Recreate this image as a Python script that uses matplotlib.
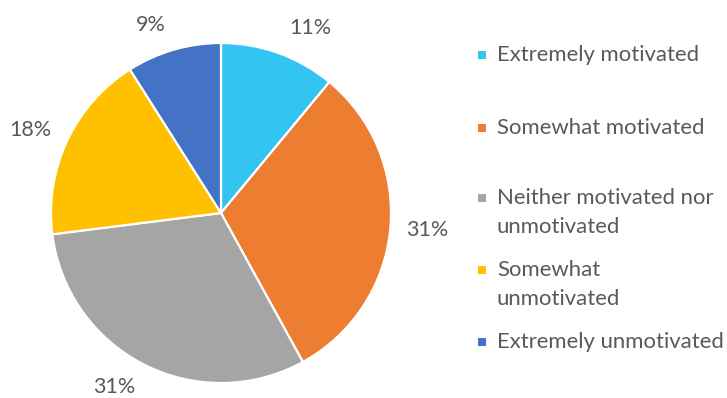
import matplotlib
matplotlib.use("Agg")
import matplotlib.pyplot as plt
import numpy as np
from matplotlib.patches import Rectangle

categories = [
    "Extremely motivated",
    "Somewhat motivated",
    "Neither motivated nor\nunmotivated",
    "Somewhat\nunmotivated",
    "Extremely unmotivated",
]
shares = [11, 31, 31, 18, 9]
colors = ["#33C4F2", "#ED7D31", "#A5A5A5", "#FFC000", "#4472C4"]

text_color = "#595959"
plt.rcParams["font.family"] = ["Lato", "DejaVu Sans"]

W, H = 727, 398
fig = plt.figure(figsize=(W / 100, H / 100), dpi=100)

# square axes in pixels: pie centre (221, 213), radius 170
cx, cy, r = 221, 213, 170
ax = fig.add_axes([(cx - r) / W, (H - cy - r) / H, 2 * r / W, 2 * r / H])

wedges, _, pcts = ax.pie(
    shares,
    colors=colors,
    startangle=90,
    counterclock=False,
    radius=1,
    autopct=lambda p: f"{p:.0f}%",
    pctdistance=1.22,
    wedgeprops=dict(edgecolor="white", linewidth=1.6),
    textprops=dict(color=text_color, fontsize=15.5),
)
ax.set_xlim(-1, 1)
ax.set_ylim(-1, 1)
ax.axis("off")

# nudge the outside labels along the rim (best-fit style placement)
angle_shift = [-6, 0.7, -4.6, 1.7, 4.2]
label_dist = [1.21, 1.22, 1.2, 1.22, 1.18]
for wedge, txt, shift, dist in zip(wedges, pcts, angle_shift, label_dist):
    mid = np.deg2rad((wedge.theta1 + wedge.theta2) / 2 + shift)
    txt.set_position((dist * np.cos(mid), dist * np.sin(mid)))

# legend drawn by hand to keep the uneven row spacing
legend_rows = [55, 128, 198, 270, 342]
line_gap = 29
for wedge, label, y in zip(wedges, categories, legend_rows):
    fig.patches.append(Rectangle((478 / W, (H - y - 4) / H), 8 / W, 8 / H,
                                 transform=fig.transFigure,
                                 facecolor=wedge.get_facecolor(),
                                 edgecolor="none"))
    for i, line in enumerate(label.split("\n")):
        fig.text(497 / W, (H - y - i * line_gap) / H, line, color=text_color,
                 fontsize=15.9, va="center", ha="left")

fig.savefig("out.png", dpi=100, facecolor="white")
